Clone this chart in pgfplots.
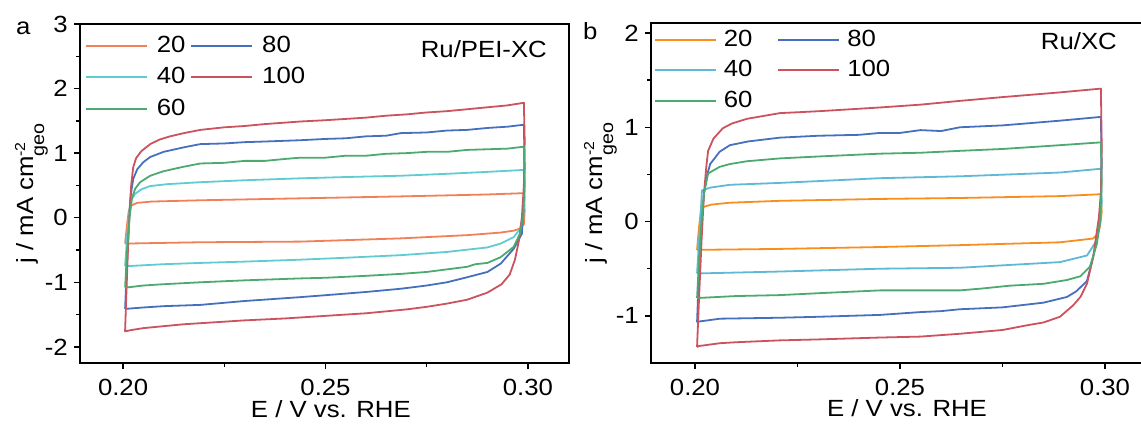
\documentclass[border=0pt]{standalone}
\usepackage{fontspec}
\setmainfont[FakeStretch=1.1]{Liberation Sans}
\usepackage{pgfplots}
\pgfplotsset{compat=1.18}
\definecolor{orA}{RGB}{241,128,88}
\definecolor{orB}{RGB}{247,143,30}
\definecolor{cyA}{RGB}{94,204,210}
\definecolor{cyB}{RGB}{95,185,214}
\definecolor{gr}{RGB}{76,170,112}
\definecolor{bl}{RGB}{70,112,190}
\definecolor{rd}{RGB}{204,82,94}
\newcommand{\ylab}{j / mA cm\rlap{\raisebox{8bp}{\fontsize{14.5}{15}\selectfont -2}}\raisebox{-11bp}{\fontsize{18}{18}\selectfont geo}}
\pgfplotsset{cvstyle/.style={
  scale only axis, anchor=south west,
  axis line style={line width=2bp},
  tick style={line width=1.4bp, black},
  major tick length=6bp, minor tick length=4bp,
  tick align=outside, tick pos=left,
  minor x tick num=1, minor y tick num=1,
  xtick={0.2,0.25,0.3}, xticklabels={0.20,0.25,0.30},
  xticklabel style={anchor=base, inner sep=0pt, yshift=-26bp},
  yticklabel style={anchor=east, inner sep=0pt, xshift=-6bp},
  xlabel={E / V vs. RHE},
  ylabel={\ylab},
  legend cell align=left,
  legend columns=2,
  every axis plot/.append style={line width=1.8bp, line join=round},
  legend image code/.code={\draw[line width=1.8bp,##1] (0bp,0bp) -- (61bp,0bp);},
}}
\begin{document}
\fontsize{23.5}{28}\selectfont
\begin{tikzpicture}
\useasboundingbox (0,0) rectangle (1141bp,426bp);
\node[anchor=base west, inner sep=0pt] at (16bp,391bp) {a};
\node[anchor=base west, inner sep=0pt] at (583bp,386bp) {b};
% ---------------- panel a
\begin{axis}[cvstyle,
  at={(80bp,63bp)}, width=489bp, height=339bp,
  xmin=0.18936, xmax=0.31015, ymin=-2.25, ymax=3,
  ytick={-2,-1,0,1,2,3}, yticklabels={-2,-1,0,1,2,3},
  every axis x label/.style={at={(axis description cs:0.513,-0.1593)}, anchor=base, inner sep=0pt},
  every axis y label/.style={at={(axis description cs:-0.0961,0.5)}, rotate=90, anchor=base, inner sep=0pt},
  legend style={draw=none, fill=none, at={(0,1)}, anchor=north west, xshift=5bp, yshift=-10bp,
    inner sep=0pt, outer sep=0pt, row sep=7.5bp, font=\fontsize{23.5}{28}\selectfont,
    nodes={inner sep=2bp}, /tikz/every odd column/.append style={column sep=7bp},
    /tikz/every even column/.append style={column sep=3bp}},
]
\addplot[orA] coordinates {(0.2005,-0.40)(0.2010,-0.1)(0.2014,0.1)(0.2020,0.19)(0.2035,0.23)(0.2070,0.25)(0.2191,0.27)(0.2438,0.30)(0.2686,0.33)(0.2900,0.36)(0.2990,0.38)
 (0.2992,0.1)(0.2990,-0.10)(0.2980,-0.17)(0.2965,-0.20)(0.2933,-0.23)(0.2850,-0.27)(0.2686,-0.32)(0.2438,-0.37)(0.2191,-0.38)(0.2010,-0.40)(0.2005,-0.40)};
\addlegendentry{20}
\addplot[bl] coordinates {(0.2005,-1.41)(0.2009,-0.8)(0.2014,-0.1)(0.2019,0.35)(0.2025,0.60)(0.2035,0.75)(0.2050,0.86)(0.2067,0.94)(0.2100,1.02)(0.2150,1.09)(0.2191,1.14)(0.2250,1.15)(0.2300,1.17)(0.2350,1.18)(0.2438,1.20)(0.2500,1.22)(0.2550,1.23)(0.2600,1.26)(0.2650,1.27)(0.2686,1.31)(0.2750,1.32)(0.2800,1.35)(0.2850,1.36)(0.2900,1.39)(0.2950,1.41)(0.2990,1.44)
 (0.2992,0.8)(0.2990,0.2)(0.2985,-0.25)(0.2965,-0.48)(0.2933,-0.71)(0.2900,-0.84)(0.2851,-0.92)(0.2800,-1.00)(0.2750,-1.05)(0.2686,-1.10)(0.2600,-1.15)(0.2500,-1.20)(0.2438,-1.23)(0.2300,-1.29)(0.2191,-1.35)(0.2100,-1.37)(0.2050,-1.39)(0.2010,-1.41)(0.2005,-1.41)};
\addlegendentry{80}
\addplot[cyA] coordinates {(0.2005,-0.75)(0.2010,-0.3)(0.2015,0.1)(0.2020,0.28)(0.2030,0.37)(0.2045,0.44)(0.2067,0.49)(0.2110,0.52)(0.2191,0.55)(0.2300,0.58)(0.2438,0.61)(0.2550,0.63)(0.2686,0.65)(0.2800,0.68)(0.2900,0.71)(0.2990,0.74)
 (0.2992,0.3)(0.2988,0.0)(0.2980,-0.18)(0.2965,-0.30)(0.2933,-0.40)(0.2900,-0.46)(0.2800,-0.53)(0.2686,-0.58)(0.2550,-0.62)(0.2438,-0.65)(0.2300,-0.68)(0.2191,-0.70)(0.2100,-0.72)(0.2010,-0.75)(0.2005,-0.75)};
\addlegendentry{40}
\addplot[rd] coordinates {(0.2005,-1.75)(0.2008,-1.2)(0.2012,-0.5)(0.2016,0.1)(0.2020,0.5)(0.2025,0.78)(0.2032,0.92)(0.2045,1.03)(0.2067,1.14)(0.2090,1.21)(0.2116,1.26)(0.2150,1.31)(0.2191,1.36)(0.2250,1.40)(0.2300,1.42)(0.2350,1.45)(0.2438,1.49)(0.2500,1.51)(0.2550,1.53)(0.2600,1.55)(0.2650,1.58)(0.2700,1.60)(0.2750,1.63)(0.2800,1.65)(0.2850,1.68)(0.2900,1.71)(0.2950,1.74)(0.2990,1.78)
 (0.2992,1.2)(0.2990,0.5)(0.2985,0.0)(0.2978,-0.35)(0.2968,-0.65)(0.2955,-0.88)(0.2935,-1.03)(0.2900,-1.16)(0.2850,-1.27)(0.2800,-1.33)(0.2750,-1.38)(0.2700,-1.42)(0.2650,-1.45)(0.2600,-1.48)(0.2500,-1.52)(0.2400,-1.56)(0.2300,-1.59)(0.2200,-1.63)(0.2150,-1.65)(0.2100,-1.68)(0.2050,-1.71)(0.2020,-1.74)(0.2005,-1.76)(0.2005,-1.75)};
\addlegendentry{100}
\addplot[gr] coordinates {(0.2005,-1.08)(0.2010,-0.5)(0.2016,0.0)(0.2022,0.3)(0.2030,0.45)(0.2042,0.55)(0.2067,0.65)(0.2100,0.72)(0.2150,0.79)(0.2191,0.84)(0.2250,0.85)(0.2300,0.88)(0.2350,0.88)(0.2400,0.91)(0.2438,0.93)(0.2500,0.93)(0.2550,0.96)(0.2600,0.96)(0.2650,0.99)(0.2700,1.00)(0.2750,1.02)(0.2800,1.02)(0.2850,1.05)(0.2900,1.06)(0.2950,1.07)(0.2990,1.10)
 (0.2992,0.5)(0.2988,0.0)(0.2980,-0.25)(0.2965,-0.45)(0.2933,-0.61)(0.2900,-0.70)(0.2870,-0.72)(0.2850,-0.76)(0.2800,-0.80)(0.2750,-0.84)(0.2686,-0.87)(0.2600,-0.90)(0.2500,-0.93)(0.2438,-0.94)(0.2300,-0.97)(0.2191,-1.00)(0.2100,-1.03)(0.2050,-1.05)(0.2010,-1.08)(0.2005,-1.08)};
\addlegendentry{60}
\node[anchor=base east, inner sep=0pt] at (rel axis cs:1,1) [xshift=-22bp, yshift=-34bp] {Ru/PEI-XC};
\end{axis}
% ---------------- panel b
\begin{axis}[cvstyle,
  at={(651bp,63bp)}, width=499bp, height=340bp,
  xmin=0.18927, xmax=0.31098, ymin=-1.5, ymax=2.106,
  ytick={-1,0,1,2}, yticklabels={-1,0,1,2},
  every axis x label/.style={at={(axis description cs:0.513,-0.1588)}, anchor=base, inner sep=0pt},
  every axis y label/.style={at={(axis description cs:-0.0982,0.5)}, rotate=90, anchor=base, inner sep=0pt},
  legend style={draw=none, fill=none, at={(0,1)}, anchor=north west, xshift=3bp, yshift=-5bp,
    inner sep=0pt, outer sep=0pt, row sep=6.5bp, font=\fontsize{23.5}{28}\selectfont,
    nodes={inner sep=2bp}, /tikz/every odd column/.append style={column sep=5bp},
    /tikz/every even column/.append style={column sep=23bp}},
]
\addplot[orB] coordinates {(0.2005,-0.30)(0.2010,-0.05)(0.2014,0.10)(0.2017,0.15)(0.2040,0.18)(0.2085,0.20)(0.2207,0.22)(0.2451,0.24)(0.2646,0.25)(0.2890,0.27)(0.2990,0.29)
 (0.2992,0.1)(0.2988,-0.05)(0.2983,-0.13)(0.2971,-0.18)(0.2890,-0.22)(0.2646,-0.25)(0.2451,-0.27)(0.2207,-0.29)(0.2010,-0.30)(0.2005,-0.30)};
\addlegendentry{20}
\addplot[bl] coordinates {(0.2005,-1.07)(0.2010,-0.5)(0.2016,0.0)(0.2022,0.3)(0.2030,0.5)(0.2037,0.61)(0.2060,0.74)(0.2085,0.81)(0.2130,0.85)(0.2207,0.89)(0.2300,0.91)(0.2400,0.92)(0.2451,0.94)(0.2500,0.94)(0.2550,0.97)(0.2600,0.96)(0.2646,1.00)(0.2750,1.02)(0.2890,1.07)(0.2990,1.11)
 (0.2992,0.6)(0.2988,0.0)(0.2980,-0.2)(0.2971,-0.38)(0.2956,-0.63)(0.2930,-0.74)(0.2907,-0.80)(0.2850,-0.86)(0.2810,-0.88)(0.2750,-0.91)(0.2646,-0.93)(0.2600,-0.95)(0.2550,-0.96)(0.2451,-0.99)(0.2300,-1.01)(0.2207,-1.02)(0.2061,-1.03)(0.2010,-1.06)(0.2005,-1.07)};
\addlegendentry{80}
\addplot[cyB] coordinates {(0.2005,-0.55)(0.2010,-0.2)(0.2014,0.1)(0.2017,0.33)(0.2037,0.36)(0.2085,0.39)(0.2207,0.41)(0.2451,0.46)(0.2646,0.48)(0.2890,0.52)(0.2990,0.56)
 (0.2992,0.2)(0.2988,0.0)(0.2980,-0.20)(0.2956,-0.36)(0.2890,-0.43)(0.2646,-0.49)(0.2451,-0.50)(0.2207,-0.53)(0.2010,-0.55)(0.2005,-0.55)};
\addlegendentry{40}
\addplot[rd] coordinates {(0.2005,-1.33)(0.2010,-0.8)(0.2016,-0.2)(0.2022,0.3)(0.2028,0.6)(0.2032,0.75)(0.2045,0.88)(0.2068,0.99)(0.2090,1.04)(0.2127,1.09)(0.2207,1.15)(0.2300,1.17)(0.2451,1.21)(0.2550,1.24)(0.2646,1.28)(0.2750,1.32)(0.2890,1.37)(0.2990,1.41)
 (0.2992,0.8)(0.2990,0.3)(0.2985,0.04)(0.2971,-0.38)(0.2956,-0.66)(0.2940,-0.80)(0.2922,-0.89)(0.2890,-1.01)(0.2850,-1.07)(0.2810,-1.10)(0.2750,-1.15)(0.2646,-1.19)(0.2550,-1.22)(0.2451,-1.23)(0.2300,-1.25)(0.2207,-1.26)(0.2100,-1.28)(0.2061,-1.29)(0.2010,-1.32)(0.2005,-1.33)};
\addlegendentry{100}
\addplot[gr] coordinates {(0.2005,-0.81)(0.2010,-0.4)(0.2016,0.0)(0.2022,0.3)(0.2032,0.51)(0.2060,0.58)(0.2085,0.61)(0.2127,0.64)(0.2207,0.67)(0.2300,0.69)(0.2400,0.71)(0.2451,0.72)(0.2550,0.73)(0.2646,0.75)(0.2750,0.77)(0.2890,0.81)(0.2990,0.84)
 (0.2992,0.4)(0.2988,0.0)(0.2980,-0.24)(0.2963,-0.48)(0.2940,-0.58)(0.2907,-0.62)(0.2850,-0.66)(0.2768,-0.68)(0.2700,-0.71)(0.2646,-0.73)(0.2550,-0.73)(0.2451,-0.73)(0.2300,-0.76)(0.2207,-0.78)(0.2100,-0.79)(0.2010,-0.81)(0.2005,-0.81)};
\addlegendentry{60}
\node[anchor=base east, inner sep=0pt] at (rel axis cs:1,1) [xshift=-33bp, yshift=-27bp] {Ru/XC};
\end{axis}
\end{tikzpicture}
\end{document}
